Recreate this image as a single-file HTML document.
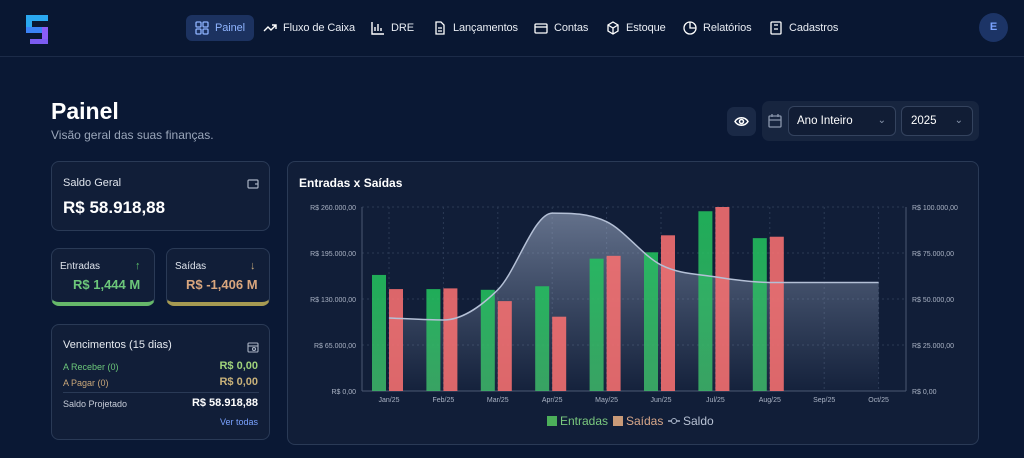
<!DOCTYPE html>
<html><head><meta charset="utf-8"><style>
*{box-sizing:border-box;margin:0;padding:0}
body{width:1024px;height:458px;overflow:hidden;background:#0a1834;font-family:"Liberation Sans",sans-serif;color:#e5e9f0;position:relative}
.nav{position:absolute;left:0;top:0;width:1024px;height:57px;border-bottom:1px solid #1c2b48;background:#091732}
.ni{position:absolute;top:15px;height:26px;line-height:26px;font-size:11px;color:#e8ecf3;display:flex;align-items:center;gap:6px;letter-spacing:-0.1px}
.ni svg{width:14px;height:14px}
.card{position:absolute;background:#111e38;border:1px solid #2a3a56;border-radius:8px}
.abs{position:absolute}
</style></head><body>
<div class="nav">
 <svg class="abs" style="left:24px;top:13px" width="28" height="34"><rect x="2" y="2" width="22" height="6" fill="#2aa8f0"/><rect x="2" y="2" width="6" height="16" fill="#2aa8f0"/><rect x="2" y="14" width="22" height="6" fill="#3b82f6"/><rect x="18" y="14" width="6" height="16" fill="#8b5cf6"/><rect x="6" y="26" width="18" height="5" fill="#7c5cf0"/></svg>
 <div class="ni" style="left:186px;padding:0 9px;background:#1c3260;border-radius:6px;color:#8fb4ff"><svg viewBox="0 0 14 14" fill="none" stroke="#8fb4ff" stroke-width="1.3"><rect x="1" y="1" width="5" height="5" rx="1"/><rect x="8" y="1" width="5" height="5" rx="1"/><rect x="1" y="8" width="5" height="5" rx="1"/><rect x="8" y="8" width="5" height="5" rx="1"/></svg>Painel</div>
 <div class="ni" style="left:263px"><svg viewBox="0 0 14 14" fill="none" stroke="#fff" stroke-width="1.4"><path d="M1 10l4-4 3 3 5-5M9 4h4v4"/></svg>Fluxo de Caixa</div>
 <div class="ni" style="left:371px"><svg viewBox="0 0 14 14" fill="none" stroke="#fff" stroke-width="1.4"><path d="M1 1v12h12M4 10V6M7 10V3M10 10V7"/></svg>DRE</div>
 <div class="ni" style="left:433px"><svg viewBox="0 0 14 14" fill="none" stroke="#fff" stroke-width="1.3"><path d="M3 1h5l3 3v9H3z M5 7h4M5 10h4"/></svg>Lançamentos</div>
 <div class="ni" style="left:534px"><svg viewBox="0 0 14 14" fill="none" stroke="#fff" stroke-width="1.3"><rect x="1" y="3" width="12" height="9" rx="1"/><path d="M1 6h12"/></svg>Contas</div>
 <div class="ni" style="left:606px"><svg viewBox="0 0 14 14" fill="none" stroke="#fff" stroke-width="1.3"><path d="M7 1l5 3v6l-5 3-5-3V4z M2 4l5 3 5-3M7 7v6"/></svg>Estoque</div>
 <div class="ni" style="left:683px"><svg viewBox="0 0 14 14" fill="none" stroke="#fff" stroke-width="1.3"><circle cx="7" cy="7" r="6"/><path d="M7 1v6h6"/></svg>Relatórios</div>
 <div class="ni" style="left:769px"><svg viewBox="0 0 14 14" fill="none" stroke="#fff" stroke-width="1.3"><rect x="2" y="1" width="10" height="12" rx="1"/><path d="M5 8h4M5 4h4"/></svg>Cadastros</div>
 <div class="abs" style="left:979px;top:13px;width:29px;height:29px;border-radius:50%;background:#1c3466;color:#7aa2ff;font-size:11px;font-weight:bold;text-align:center;line-height:29px">E</div>
</div>

<div class="abs" style="left:51px;top:98px;font-size:23px;font-weight:bold;color:#fff">Painel</div>
<div class="abs" style="left:51px;top:128px;font-size:12px;color:#9aa6ba">Visão geral das suas finanças.</div>

<div class="abs" style="left:727px;top:107px;width:29px;height:29px;border-radius:7px;background:#1a2946"><svg width="29" height="29" viewBox="0 0 29 29" fill="none" stroke="#fff" stroke-width="1.5"><path d="M8 14.5c3-5 10-5 13 0c-3 5-10 5-13 0z"/><circle cx="14.5" cy="14.5" r="2"/></svg></div>
<div class="abs" style="left:762px;top:101px;width:217px;height:40px;border-radius:7px;background:#17253f">
 <svg class="abs" style="left:5px;top:12px" width="16" height="16" viewBox="0 0 16 16" fill="none" stroke="#8a97ad" stroke-width="1.3"><rect x="2" y="3" width="12" height="11" rx="1"/><path d="M2 7h12M5 1v3M11 1v3"/></svg>
 <div class="abs" style="left:26px;top:5px;width:108px;height:30px;border:1px solid #34435e;border-radius:6px;background:#111d35;font-size:11.5px;line-height:28px;padding-left:8px;color:#fff">Ano Inteiro<span class="abs" style="right:9px;top:0;color:#8a97ad;font-size:10px">⌄</span></div>
 <div class="abs" style="left:139px;top:5px;width:72px;height:30px;border:1px solid #34435e;border-radius:6px;background:#111d35;font-size:11.5px;line-height:28px;padding-left:9px;color:#fff">2025<span class="abs" style="right:9px;top:0;color:#8a97ad;font-size:10px">⌄</span></div>
</div>

<div class="card" style="left:51px;top:161px;width:219px;height:70px">
 <div class="abs" style="left:11px;top:15px;font-size:11px;color:#dfe4ec">Saldo Geral</div>
 <svg class="abs" style="left:195px;top:16px" width="12" height="12" viewBox="0 0 12 12" fill="none" stroke="#aab3c4" stroke-width="1.2"><rect x="1" y="2" width="10" height="8" rx="1"/><path d="M8 6h3"/></svg>
 <div class="abs" style="left:11px;top:36px;font-size:17px;font-weight:bold;color:#fff">R$ 58.918,88</div>
</div>
<div class="card" style="left:51px;top:248px;width:104px;height:58px;border-bottom:4px solid #66b86a">
 <div class="abs" style="left:8px;top:12px;font-size:10px;color:#dfe4ec">Entradas</div>
 <div class="abs" style="left:83px;top:11px;font-size:11px;color:#5cc06a">↑</div>
 <div class="abs" style="left:21px;top:28px;font-size:13px;font-weight:bold;color:#6cc77a">R$ 1,444 M</div>
</div>
<div class="card" style="left:166px;top:248px;width:104px;height:58px;border-bottom:4px solid #a69a52">
 <div class="abs" style="left:8px;top:12px;font-size:10px;color:#dfe4ec">Saídas</div>
 <div class="abs" style="left:83px;top:11px;font-size:11px;color:#c8a97a">↓</div>
 <div class="abs" style="left:19px;top:28px;font-size:13px;font-weight:bold;color:#d9a67e">R$ -1,406 M</div>
</div>
<div class="card" style="left:51px;top:324px;width:219px;height:116px">
 <div class="abs" style="left:11px;top:14px;font-size:11px;color:#e6eaf0">Vencimentos (15 dias)</div>
 <svg class="abs" style="left:195px;top:16px" width="12" height="12" viewBox="0 0 12 12" fill="none" stroke="#aab3c4" stroke-width="1.1"><rect x="1" y="2" width="10" height="9" rx="1"/><path d="M1 5h10"/><circle cx="7" cy="8" r="1.5"/></svg>
 <div class="abs" style="left:11px;top:37px;font-size:9px;color:#6cc77a">A Receber (0)</div>
 <div class="abs" style="right:11px;top:35px;font-size:11px;font-weight:bold;color:#9fd27a">R$ 0,00</div>
 <div class="abs" style="left:11px;top:53px;font-size:9px;color:#c9a77a">A Pagar (0)</div>
 <div class="abs" style="right:11px;top:51px;font-size:11px;font-weight:bold;color:#c9b27a">R$ 0,00</div>
 <div class="abs" style="left:11px;top:67px;width:196px;border-top:1px solid #2a3a56"></div>
 <div class="abs" style="left:11px;top:74px;font-size:9px;color:#c6ccd8">Saldo Projetado</div>
 <div class="abs" style="right:11px;top:72px;font-size:11px;font-weight:bold;color:#fff">R$ 58.918,88</div>
 <div class="abs" style="right:11px;top:92px;font-size:9px;color:#7aa2ff">Ver todas</div>
</div>

<div class="card" style="left:287px;top:161px;width:692px;height:284px">
 <div class="abs" style="left:11px;top:14px;font-size:12px;font-weight:bold;color:#fff">Entradas x Saídas</div>
</div>
<svg id="chart" class="abs" style="left:0;top:0" width="1024" height="458">
 <defs>
  <linearGradient id="ag" x1="0" y1="0" x2="0" y2="1"><stop offset="0" stop-color="#9aa8c2" stop-opacity="0.6"/><stop offset="1" stop-color="#8c9bb8" stop-opacity="0.03"/></linearGradient>
  <linearGradient id="gg" x1="0" y1="0" x2="0" y2="1"><stop offset="0" stop-color="#22c55e"/><stop offset="1" stop-color="#3fb96a"/></linearGradient>
 </defs>
 <g id="grid"></g><g id="area"></g><g id="bars"></g><g id="line"></g><g id="axes"></g>
 <g font-size="12">
  <rect x="547" y="416" width="10" height="10" fill="#4caf5a"/><text x="560" y="425" fill="#7bc97f">Entradas</text>
  <rect x="613" y="416" width="10" height="10" fill="#c99a78"/><text x="626" y="425" fill="#d9a88a">Saídas</text>
  <line x1="668" y1="421" x2="680" y2="421" stroke="#a8b4c8" stroke-width="1.5"/><circle cx="674" cy="421" r="2.5" fill="#0f1c36" stroke="#a8b4c8"/><text x="683" y="425" fill="#b8c2d4">Saldo</text>
 </g>
</svg>
<script>
const categories=["Jan/25","Feb/25","Mar/25","Apr/25","May/25","Jun/25","Jul/25","Aug/25","Sep/25","Oct/25"];
const entradas=[164000,144000,143000,148000,187000,196000,254000,216000,0,0];
const saidas=[144000,145000,127000,105000,191000,220000,260000,218000,0,0];
const saldo=[39700,38600,55000,96700,92000,68500,62000,59000,59000,59000];
const leftTicks=["R$ 0,00","R$ 65.000,00","R$ 130.000,00","R$ 195.000,00","R$ 260.000,00"];
const rightTicks=["R$ 0,00","R$ 25.000,00","R$ 50.000,00","R$ 75.000,00","R$ 100.000,00"];
const NS="http://www.w3.org/2000/svg";
const L=362,R=906,T=207,B=391,X0=389,DX=54.4;
const x=i=>X0+i*DX, yl=v=>B-v/260000*(B-T), yr=v=>B-v/100000*(B-T);
function mk(tag,attrs,parent){const e=document.createElementNS(NS,tag);for(const k in attrs)e.setAttribute(k,attrs[k]);document.getElementById(parent).appendChild(e);return e;}
for(let i=0;i<5;i++){const y=B-i*(B-T)/4;
 const g=mk('line',{x1:L,x2:R,y1:y,y2:y,stroke:i?'#2b3a55':'#4a5872','stroke-dasharray':i?'2 3':''},'grid');
 
 
 const a=mk('text',{x:L-6,y:y+3,'text-anchor':'end','font-size':7,fill:'#aab3c4'},'axes');a.textContent=leftTicks[i];
 
 
 const b=mk('text',{x:R+6,y:y+3,'font-size':7,fill:'#aab3c4'},'axes');b.textContent=rightTicks[i];
 
 }
mk('line',{x1:L,x2:L,y1:T,y2:B,stroke:'#4a5872'},'axes');mk('line',{x1:R,x2:R,y1:T,y2:B,stroke:'#4a5872'},'axes');
categories.forEach((c,i)=>{mk('line',{x1:x(i),x2:x(i),y1:T,y2:B,stroke:'#2b3a55','stroke-dasharray':'2 3'},'grid');
 const t=mk('text',{x:x(i),y:402,'text-anchor':'middle','font-size':7,fill:'#aab3c4'},'axes');t.textContent=c;
 
 });
const pts=saldo.map((v,i)=>[x(i),yr(v)]);
function curve(p){const n=p.length,d=[],m=[];for(let i=0;i<n-1;i++)d.push((p[i+1][1]-p[i][1])/(p[i+1][0]-p[i][0]));
 m[0]=d[0];m[n-1]=d[n-2];for(let i=1;i<n-1;i++)m[i]=d[i-1]*d[i]<=0?0:(d[i-1]+d[i])/2;
 let s=`M${p[0][0]},${p[0][1]}`;for(let i=0;i<n-1;i++){const h=(p[i+1][0]-p[i][0])/3;s+=`C${p[i][0]+h},${p[i][1]+m[i]*h} ${p[i+1][0]-h},${p[i+1][1]-m[i+1]*h} ${p[i+1][0]},${p[i+1][1]}`;}return s;}
const cs=curve(pts);
const ar=mk('path',{d:cs+`L${pts[pts.length-1][0]},${B}L${pts[0][0]},${B}Z`,fill:'url(#ag)'},'area');


categories.forEach((c,i)=>{
 if(entradas[i]>0){const r=mk('rect',{x:x(i)-17,y:yl(entradas[i]),width:14,height:B-yl(entradas[i]),fill:'url(#gg)','fill-opacity':0.85},'bars');
 
 }
 if(saidas[i]>0){const r=mk('rect',{x:x(i),y:yl(saidas[i]),width:14,height:B-yl(saidas[i]),fill:'#f87171','fill-opacity':0.88},'bars');
 
 }
});
const ln=mk('path',{d:cs,fill:'none',stroke:'#b4c0d6','stroke-width':1.5},'line');


</script>
</body></html>
